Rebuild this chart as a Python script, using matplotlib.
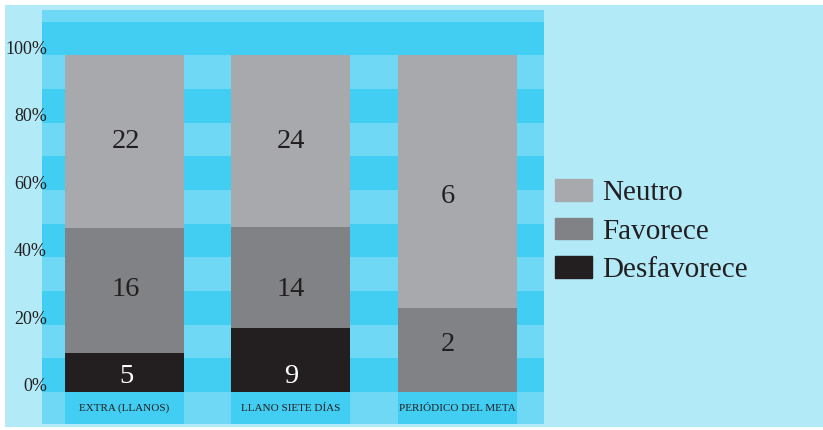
import matplotlib.pyplot as plt
from matplotlib.patches import Rectangle, Patch

plt.rcParams['font.family'] = ['Liberation Serif', 'DejaVu Serif']

# data (counts per category)
categories = ['EXTRA (LLANOS)', 'LLANO SIETE DÍAS', 'PERIÓDICO DEL META']
desfavorece = [5, 9, 0]
favorece = [16, 14, 2]
neutro = [22, 24, 6]
series_names = ['Neutro', 'Favorece', 'Desfavorece']
yticks = [0, 20, 40, 60, 80, 100]

# where the number labels sit (percent height / x shift), as placed in the original
label_y = [[5.7, 31.4, 75.4], [5.7, 31.4, 75.4], [None, 15.0, 59.2]]
label_dx = [0.01, 0.0, -0.06]

bg = '#b2eaf8'
light = '#6ed8f5'
dark = '#42cdf3'
c_neutro = '#a7a9ac'
c_fav = '#808285'
c_desf = '#231f20'
txt = '#231f20'

W, H = 823, 430
fig = plt.figure(figsize=(W / 100, H / 100), dpi=100)
fig.patches.append(Rectangle((5 / W, 3 / H), 1, 1 - 8 / H, transform=fig.transFigure,
                             facecolor=bg, edgecolor='none', zorder=-10))

ax = fig.add_axes([42 / W, 1 - 424 / H, 502 / W, 414 / H])
ax.set_xlim(-0.495, 2.52)
ax.set_ylim(-9.5, 113.5)
ax.axis('off')

# background stripes
ax.axhspan(-9.5, 0, color=light, lw=0)
for lo in range(0, 110, 10):
    ax.axhspan(lo, lo + 10, color=dark if (lo // 10) % 2 == 0 else light, lw=0)
ax.axhspan(110, 113.5, color=light, lw=0)

totals = [d + f + n for d, f, n in zip(desfavorece, favorece, neutro)]
p_d = [100 * d / t for d, t in zip(desfavorece, totals)]
p_f = [100 * f / t for f, t in zip(favorece, totals)]
p_n = [100 * n / t for n, t in zip(neutro, totals)]
x = list(range(len(categories)))
w = 0.715

ax.bar(x, p_d, w, color=c_desf, zorder=2)
ax.bar(x, p_f, w, bottom=p_d, color=c_fav, zorder=2)
ax.bar(x, p_n, w, bottom=[a + b for a, b in zip(p_d, p_f)], color=c_neutro, zorder=2)

# category label boxes under the bars
ax.bar(x, 9.5, w, bottom=-9.5, color=dark, zorder=2)
for i, c in enumerate(categories):
    ax.text(i, -4.8, c, ha='center', va='center', fontsize=8, color=txt, zorder=3)

# value labels
for i in x:
    vals = [(desfavorece[i], 'white'), (favorece[i], txt), (neutro[i], txt)]
    for (v, col), yy in zip(vals, label_y[i]):
        if v:
            ax.text(i + label_dx[i], yy - 2.95, str(v), ha='center', va='baseline',
                    fontsize=20.5, color=col, zorder=3)

# y tick labels (drawn by hand, they sit over the left edge)
for t in yticks:
    fig.text(47 / W, 1 - (392.4 - 3.37 * t - 6) / H, f'{t}%', ha='right', va='center',
             fontsize=13, color=txt)

handles = [Patch(color=c_neutro), Patch(color=c_fav), Patch(color=c_desf)]
fig.legend(handles, series_names, loc='upper left', bbox_to_anchor=(555 / W, 1 - 179 / H),
           frameon=False, fontsize=21, handlelength=1.27, handleheight=0.76,
           handletextpad=0.35, labelspacing=0.40, labelcolor=txt, borderpad=0,
           borderaxespad=0)

plt.savefig('out.png', dpi=100)
